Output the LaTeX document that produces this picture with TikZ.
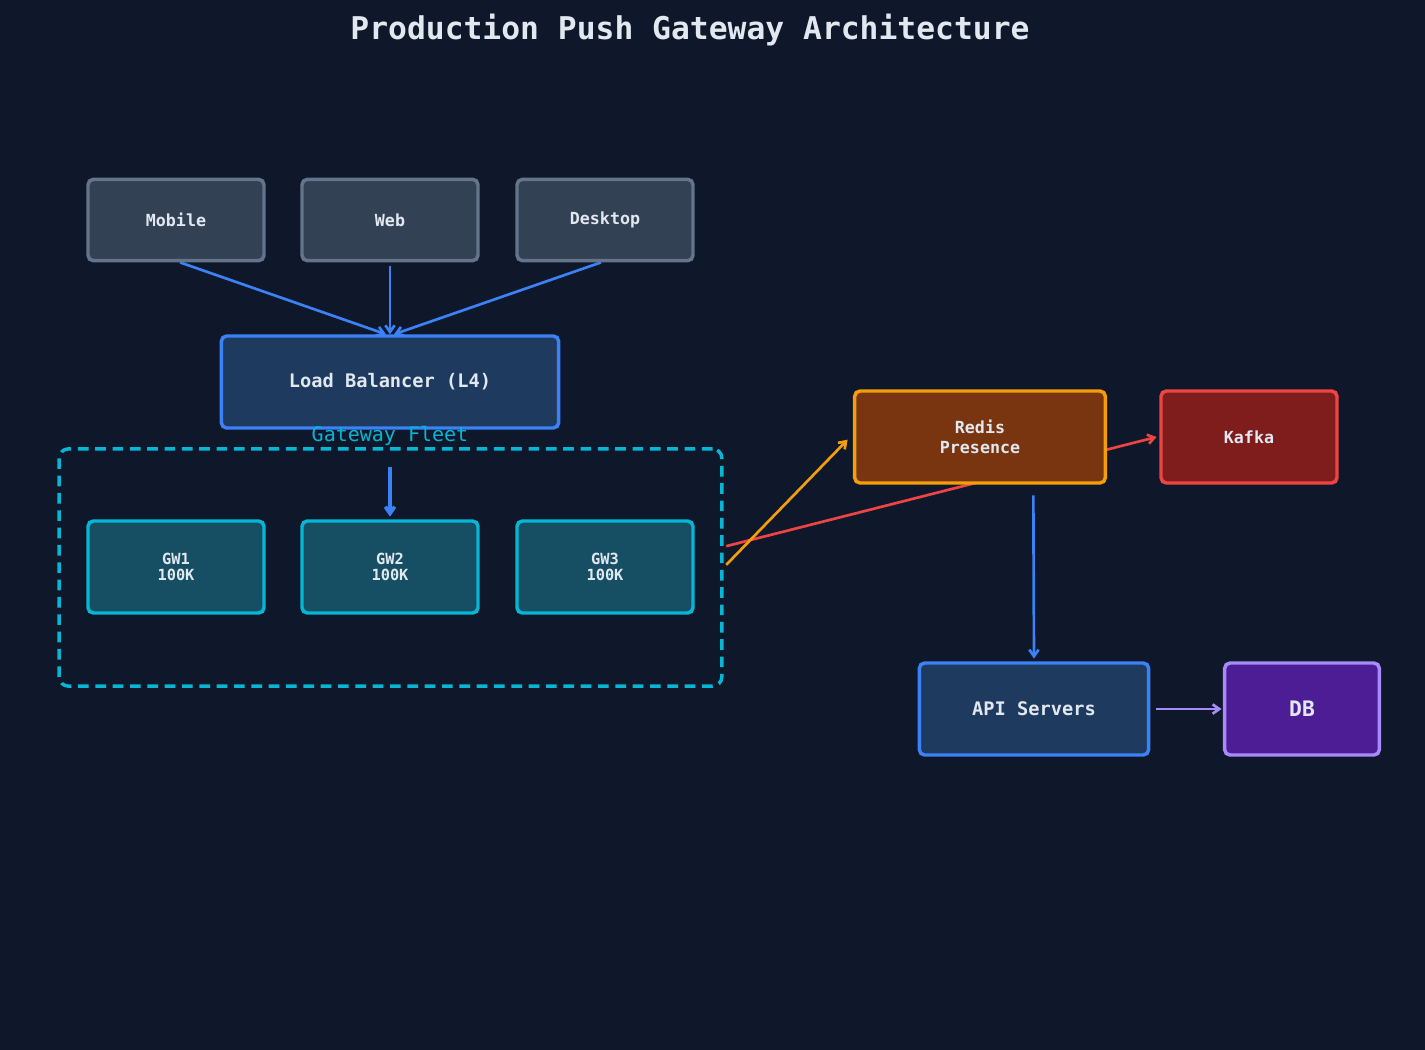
\documentclass[tikz,border=0pt]{standalone}
\usepackage{fontspec}
\setmonofont{DejaVu Sans Mono}
\usetikzlibrary{positioning, arrows.meta, backgrounds}
\definecolor{bgc}{HTML}{0F172A}
\definecolor{txt}{HTML}{E2E8F0}
\definecolor{cliF}{HTML}{334155}
\definecolor{cliD}{HTML}{64748B}
\definecolor{blueF}{HTML}{1E3A5F}
\definecolor{blueD}{HTML}{3B82F6}
\definecolor{gwF}{HTML}{164E63}
\definecolor{gwD}{HTML}{06B6D4}
\definecolor{redisF}{HTML}{78350F}
\definecolor{redisD}{HTML}{F59E0B}
\definecolor{kafkaF}{HTML}{7F1D1D}
\definecolor{kafkaD}{HTML}{EF4444}
\definecolor{dbF}{HTML}{4C1D95}
\definecolor{dbD}{HTML}{A78BFA}
\begin{document}
\begin{tikzpicture}[x=0.75pt, y=-0.75pt,
  box/.style={rectangle, rounded corners=4pt, line width=2.6pt, text=txt, font=\ttfamily\bfseries\fontsize{12.5}{15}\selectfont, align=center, inner sep=0pt},
  client/.style={box, fill=cliF, draw=cliD, minimum width=132pt, minimum height=61pt},
  gw/.style={box, fill=gwF, draw=gwD, minimum width=132pt, minimum height=69pt, font=\ttfamily\bfseries\fontsize{11.5}{12.5}\selectfont},
  flow/.style={-{Straight Barb[length=5pt, width=7pt]}, line width=2pt}]

% Title
\node[text=txt, font=\ttfamily\bfseries\fontsize{23.5}{26}\selectfont] (title) at (690,30) {Production Push Gateway Architecture};

% Clients
\node[client] (mobile) at (176,220) {Mobile};
\node[client] (web) at (390,220) {Web};
\node[client] (desktop) at (605,220) {Desktop};

% Load balancer
\node[box, fill=blueF, draw=blueD, minimum width=253pt, minimum height=69pt, font=\ttfamily\bfseries\fontsize{14}{16}\selectfont] (lb) at (390,382) {Load Balancer (L4)};

% Gateway fleet
\node[rectangle, rounded corners=7pt, draw=gwD, line width=2.6pt, dash pattern=on 8pt off 5pt, minimum width=497pt, minimum height=178pt] (fleet) at (390.5,567.5) {};
\node[text=gwD, font=\ttfamily\fontsize{15}{17}\selectfont] (fleetlbl) at (390,436) {Gateway Fleet};
\node[gw] (gw1) at (176,567) {GW1\\100K};
\node[gw] (gw2) at (390,567) {GW2\\100K};
\node[gw] (gw3) at (605,567) {GW3\\100K};

% Backends
\node[box, fill=redisF, draw=redisD, minimum width=188pt, minimum height=69pt] (redis) at (980,437) {Redis\\Presence};
\node[box, fill=kafkaF, draw=kafkaD, minimum width=132pt, minimum height=69pt] (kafka) at (1249,437) {Kafka};
\node[box, fill=blueF, draw=blueD, minimum width=172pt, minimum height=69pt, font=\ttfamily\bfseries\fontsize{14}{16}\selectfont] (api) at (1034,709) {API Servers};
\node[box, fill=dbF, draw=dbD, minimum width=116pt, minimum height=69pt, font=\ttfamily\bfseries\fontsize{16}{18}\selectfont] (db) at (1302,709) {DB};

\begin{scope}[on background layer]
\fill[bgc] (0,0) rectangle (1425,1050);
\draw[flow, draw=blueD] ([xshift=3pt]mobile.south) -- ([xshift=-3pt]lb.north);
\draw[flow, draw=blueD] ([yshift=-3pt]web.south) -- (lb.north);
\draw[flow, draw=blueD] ([xshift=-3pt]desktop.south) -- ([xshift=3pt]lb.north);
\draw[flow, line width=2.8pt, draw=blueD] ([yshift=-28pt]lb.south) -- ([yshift=2pt]gw2.north);
\draw[flow, draw=kafkaD] ([xshift=2pt,yshift=16pt]fleet.east) -- ([xshift=-2pt]kafka.west);
\draw[flow, draw=redisD] ([xshift=2pt,yshift=2pt]fleet.east) -- ([xshift=-4pt,yshift=-2pt]redis.west);
\draw[flow, draw=blueD] ([xshift=40pt,yshift=-8pt]redis.south) -- ([yshift=2pt]api.north);
\draw[flow, draw=dbD] ([xshift=4pt]api.east) -- ([xshift=-1pt]db.west);
\end{scope}
\end{tikzpicture}
\end{document}
